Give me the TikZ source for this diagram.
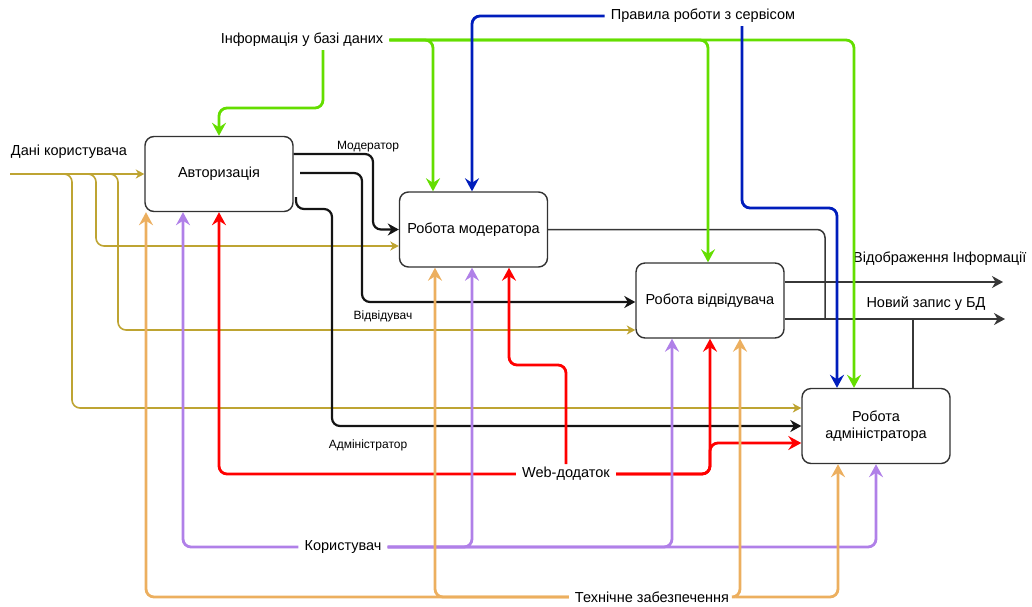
\documentclass[tikz,border=0pt]{standalone}
\usepackage{fontspec}
\setmainfont{Liberation Sans}
\usetikzlibrary{arrows.meta}

\definecolor{yel}{RGB}{190,164,50}
\definecolor{grn}{RGB}{100,222,0}
\definecolor{blu}{RGB}{0,29,188}
\definecolor{rd}{RGB}{255,0,0}
\definecolor{pur}{RGB}{176,128,232}
\definecolor{org}{RGB}{236,175,95}
\definecolor{blk}{RGB}{20,20,20}
\definecolor{gry}{RGB}{55,55,55}
\definecolor{boxc}{RGB}{50,50,50}

\tikzset{
  box/.style={draw=boxc, line width=1.4pt, rounded corners=9pt, fill=white,
    minimum width=148pt, minimum height=75pt, align=center, inner sep=2pt,
    font=\fontsize{14.5}{17}\selectfont},
  lbl/.style={inner xsep=6pt, inner ysep=3pt, font=\fontsize{14.5}{16}\selectfont},
  sm/.style={inner sep=1pt, font=\fontsize{12}{13}\selectfont},
  rc/.style={rounded corners=8pt},
  arrB/.style={-{Stealth[length=13pt,width=14pt,inset=4.5pt]}},
  arrM/.style={-{Stealth[length=11pt,width=12pt,inset=3.5pt]}},
  arrS/.style={-{Stealth[length=8.5pt,width=9pt,inset=2.5pt]}},
  wYel/.style={draw=yel, line width=1.6pt},
  wGrn/.style={draw=grn, line width=2.8pt},
  wBlu/.style={draw=blu, line width=2.8pt},
  wRed/.style={draw=rd, line width=2.8pt},
  wPur/.style={draw=pur, line width=2.8pt},
  wOrg/.style={draw=org, line width=2.8pt},
  wBlk/.style={draw=blk, line width=2.2pt},
  wGry/.style={draw=gry, line width=1.5pt},
}

\begin{document}
\begin{tikzpicture}[x=1pt,y=-1pt]
\useasboundingbox (0,0) rectangle (1032,606);

% activity boxes
\node[box] (auth) at (219,174) {Авторизація};
\node[box] (mod)  at (473.5,229.5) {Робота модератора};
\node[box] (vis)  at (710,300.5) {Робота відвідувача};
\node[box] (adm)  at (876,426) {Робота\\адміністратора};

% boundary labels
\node[lbl] (lDB)    at (302,40)  {Інформація у базі даних};
\node[lbl] (lRules) at (703,16)  {Правила роботи з сервісом};
\node[lbl, inner xsep=0pt] (lData) at (69,152) {Дані користувача};
\node[lbl] (lWeb)   at (566,474) {Web-додаток};
\node[lbl] (lUsr)   at (343,547) {Користувач};
\node[lbl] (lTech)  at (652,597) {Технічне забезпечення};
\node[lbl, anchor=west, inner xsep=0pt] (lOut1) at (853,259) {Відображення Інформації};
\node[lbl] (lOut2)  at (926,304) {Новий запис у БД};

% role labels
\node[sm] (rMod) at (368,147) {Модератор};
\node[sm] (rVis) at (383,316) {Відвідувач};
\node[sm] (rAdm) at (368,445) {Адміністратор};

% free ends and junction points
\coordinate (yIn) at (10,174);
\coordinate (bVis) at (300,173);
\coordinate (bAdm) at (296,197);
\coordinate (o1) at (1003,282);
\coordinate (o2) at (1005,319);

% user data (input)
\draw[wYel, arrS] (yIn) -- (auth.west);
\draw[wYel, arrS, rc] (yIn) -| (96,246) -- (mod.west |- 0,246);
\draw[wYel, arrS, rc] (yIn) -| (118,330) -- (vis.west |- 0,330);
\draw[wYel, arrS, rc] (yIn) -| (72,408) -- (adm.west |- 0,408);

% roles from authorisation
\draw[wBlk, arrM, rc] (auth.east |- 0,154) -| (373,229.5) -- (mod.west);
\draw[wBlk, arrM, rc] (bVis) -| (362,302) -- (vis.west |- 0,302);
\draw[wBlk, arrM, rc] (bAdm) |- (332,209) |- (adm.west);

% outputs
\draw[wGry, rc] (mod.east) -| (825,319);
\draw[wGry, arrM] (vis.east |- o1) -- (o1);
\draw[wGry, arrM] (vis.east |- o2) -- (o2);
\draw[wGry] (913,0 |- adm.north) -- (913,319);

% database information (control)
\draw[wGrn, arrB, rc] (323,0 |- lDB.south) |- (219,108) -- (auth.north);
\draw[wGrn, arrB, rc] (lDB.east) -| (433,0 |- mod.north);
\draw[wGrn, arrB, rc] (lDB.east) -| (708,0 |- vis.north);
\draw[wGrn, arrB, rc] (lDB.east) -| (854,0 |- adm.north);

% service rules (control)
\draw[wBlu, arrB, rc] (lRules.west) -| (472,0 |- mod.north);
\draw[wBlu, arrB, rc] (742,0 |- lRules.south) |- (837,208) -- (837,0 |- adm.north);

% web application (mechanism)
\draw[wRed, arrB, rc] (lWeb.west) -| (auth.south);
\draw[wRed, arrB, rc] (lWeb.north) |- (509,365) -- (509,0 |- mod.south);
\draw[wRed, arrB, rc] (lWeb.east) -| (vis.south);
\draw[wRed, arrB, rc] (lWeb.east) -| (710,443) -- (adm.west |- 0,443);

% user (mechanism)
\draw[wPur, arrB, rc] (lUsr.west) -| (183,0 |- auth.south);
\draw[wPur, arrB, rc] (lUsr.east) -| (472,0 |- mod.south);
\draw[wPur, arrB, rc] (lUsr.east) -| (672,0 |- vis.south);
\draw[wPur, arrB, rc] (lUsr.east) -| (adm.south);

% hardware (mechanism)
\draw[wOrg, arrB, rc] (lTech.west) -| (146,0 |- auth.south);
\draw[wOrg, arrB, rc] (lTech.west) -| (435,0 |- mod.south);
\draw[wOrg, arrB, rc] (lTech.east) -| (740,0 |- vis.south);
\draw[wOrg, arrB, rc] (lTech.east) -| (838,0 |- adm.south);
\end{tikzpicture}
\end{document}
